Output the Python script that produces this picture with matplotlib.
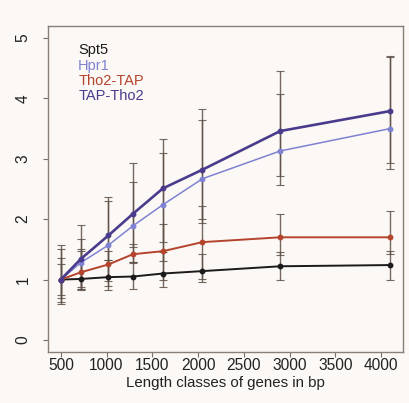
import matplotlib
matplotlib.use("Agg")
import matplotlib.pyplot as plt
import numpy as np

# gene length classes (bp)
lengths = [500, 718, 1020, 1289, 1616, 2048, 2898, 4097]

series_names = ["Spt5", "Hpr1", "Tho2-TAP", "TAP-Tho2"]
series_colors = ["#1c1a1a", "#7f82d2", "#b5442c", "#4b3b8c"]
series_widths = [1.4, 1.1, 1.4, 1.9]

spt5 = [1.00, 1.01, 1.04, 1.05, 1.10, 1.14, 1.22, 1.24]
spt5_hi = [1.25, 1.48, 1.32, 1.29, 1.455, 1.42, 1.455, 1.48]
spt5_lo = [0.745, 0.85, 0.83, 0.845, 0.88, 0.955, 1.00, 1.00]

hpr1 = [1.00, 1.28, 1.57, 1.89, 2.24, 2.67, 3.13, 3.50]
hpr1_hi = [1.50, 1.67, 2.30, 2.62, 3.09, 3.64, 4.08, 4.69]
hpr1_lo = [0.70, 0.85, 0.98, 1.29, 1.305, 2.00, 2.56, 2.83]

tho2_tap = [1.00, 1.12, 1.25, 1.42, 1.47, 1.62, 1.70, 1.70]
tho2_tap_hi = [1.36, 1.51, 1.47, 1.59, 1.92, 2.22, 2.09, 2.13]
tho2_tap_lo = [0.63, 0.87, 0.89, 1.27, 1.00, 1.01, 1.40, 1.43]

tap_tho2 = [1.00, 1.34, 1.73, 2.09, 2.51, 2.82, 3.46, 3.79]
tap_tho2_hi = [1.58, 1.91, 2.37, 2.93, 3.33, 3.82, 4.46, 4.71]
tap_tho2_lo = [0.595, 0.82, 1.32, 1.54, 1.62, 1.94, 2.71, 2.93]

means = [spt5, hpr1, tho2_tap, tap_tho2]
highs = [spt5_hi, hpr1_hi, tho2_tap_hi, tap_tho2_hi]
lows = [spt5_lo, hpr1_lo, tho2_tap_lo, tap_tho2_lo]

plt.rcParams['font.family'] = ['Liberation Sans', 'DejaVu Sans']

bg = "#fbf8f5"
fig = plt.figure(figsize=(4.10, 4.03), dpi=100, facecolor=bg)
ax = fig.add_axes([48 / 410, 51 / 403, 355 / 410, 326 / 403])
ax.set_facecolor(bg)

x = np.array(lengths)
for m, hi, lo in zip(means, highs, lows):
    m = np.array(m)
    err = [m - np.array(lo), np.array(hi) - m]
    ax.errorbar(x, m, yerr=err, fmt="none", ecolor="#5e5048",
                elinewidth=1.0, capsize=3, capthick=0.8, zorder=2, alpha=0.85)

for name, m, c, lw in zip(series_names, means, series_colors, series_widths):
    ax.plot(x, m, color=c, lw=lw, marker="o", ms=3.2, mec=c, mfc=c, zorder=3)

ax.set_xlim(360, 4240)
ax.set_ylim(-0.2, 5.2)
ax.set_xticks([500, 1000, 1500, 2000, 2500, 3000, 3500, 4000])
ax.set_yticks([0, 1, 2, 3, 4, 5])
ax.tick_params(axis="both", direction="out", length=3.5, width=0.8,
               color="#7a6e66", labelsize=11.2, labelcolor="#222222")
ax.tick_params(axis="x", pad=1)
ax.tick_params(axis="y", pad=9)
for lab in ax.get_yticklabels():
    lab.set_rotation(90)
    lab.set_va("center")
for s in ax.spines.values():
    s.set_color("#8a7e76")
    s.set_linewidth(1.0)

ax.set_xlabel("Length classes of genes in bp", fontsize=10.8, color="#222222", labelpad=2)

# legend as coloured text, top left
for i, (name, c) in enumerate(zip(series_names, series_colors)):
    ax.text(0.085, 0.925 - i * 0.047, name, color=c, fontsize=10.5,
            transform=ax.transAxes, va="center", ha="left")

fig.savefig("out.png", dpi=100, facecolor=bg)
